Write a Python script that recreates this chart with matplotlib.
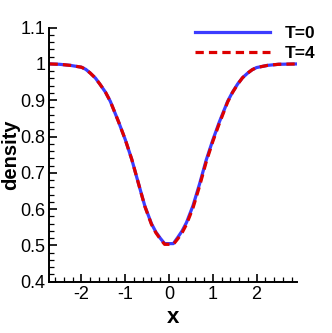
import numpy as np
from matplotlib import pyplot as plt

# density profile
x = [-2.73, -2.5, -2.25, -2.0, -1.9, -1.8, -1.68, -1.57, -1.45, -1.34, -1.15, -1.0, -0.85, -0.7, -0.55,
     -0.4, -0.3, -0.2, -0.1, 0.1, 0.2, 0.3, 0.4, 0.55, 0.7, 0.85, 1.0, 1.15, 1.34, 1.45, 1.57,
     1.68, 1.8, 1.9, 2.0, 2.25, 2.5, 2.92]
rho_t0 = [1.000, 0.999, 0.996, 0.991, 0.985, 0.975, 0.961, 0.943, 0.922, 0.897, 0.840, 0.792, 0.737, 0.672,
          0.608, 0.560, 0.537, 0.520, 0.505, 0.505, 0.522, 0.540, 0.563, 0.610, 0.670, 0.735, 0.790, 0.840,
          0.897, 0.922, 0.945, 0.962, 0.975, 0.984, 0.990, 0.996, 0.999, 1.000]
rho_t4 = [1.000, 0.999, 0.996, 0.991, 0.985, 0.975, 0.961, 0.943, 0.922, 0.897, 0.840, 0.792, 0.737, 0.672,
          0.607, 0.558, 0.535, 0.518, 0.503, 0.503, 0.518, 0.535, 0.558, 0.604, 0.664, 0.730, 0.786, 0.836,
          0.895, 0.921, 0.944, 0.962, 0.975, 0.984, 0.990, 0.996, 0.999, 1.000]
labels = ["T=0", "T=4"]

plt.rcParams['font.family'] = ['Liberation Sans', 'DejaVu Sans']
plt.rcParams['axes.unicode_minus'] = False

fig = plt.figure(figsize=(3.32, 3.33), dpi=100)
ax = fig.add_axes([0.149, 0.154, 0.745, 0.763])

ax.plot(x, rho_t0, color='#3c3cff', lw=2.3, label=labels[0])
ax.plot(x, rho_t4, color='#dd0000', lw=2.3, ls=(0, (2.6, 1.6)), label=labels[1])

ax.set_xlim(-2.73, 2.92)
ax.set_ylim(0.4, 1.1)
ax.set_xticks([-2, -1, 0, 1, 2])
ax.set_xticks(np.arange(-2.6, 2.95, 0.2), minor=True)
ax.set_yticks([0.4, 0.5, 0.6, 0.7, 0.8, 0.9, 1.0, 1.1])
ax.set_yticklabels(["0.4", "0.5", "0.6", "0.7", "0.8", "0.9", "1", "1.1"])
ax.set_yticks(np.arange(0.4, 1.1, 0.02), minor=True)

for s in ['top', 'right']:
    ax.spines[s].set_visible(False)
for s in ['left', 'bottom']:
    ax.spines[s].set_linewidth(1.4)

ax.tick_params(which='major', direction='in', length=6, width=1.2, labelsize=13, pad=3)
ax.tick_params(which='minor', direction='in', length=3.5, width=0.9)

ax.set_xlabel("x", fontsize=16, fontweight='bold', labelpad=3)
ax.set_ylabel("density", fontsize=14.5, fontweight='bold')
ax.yaxis.set_label_coords(-0.12, 0.5)

ax.legend(frameon=False, loc='upper right', bbox_to_anchor=(1.14, 1.07), handlelength=4.3,
          handletextpad=0.9, labelspacing=0.3, prop={'weight': 'bold', 'size': 12.5})

fig.savefig("out.png", dpi=100)
